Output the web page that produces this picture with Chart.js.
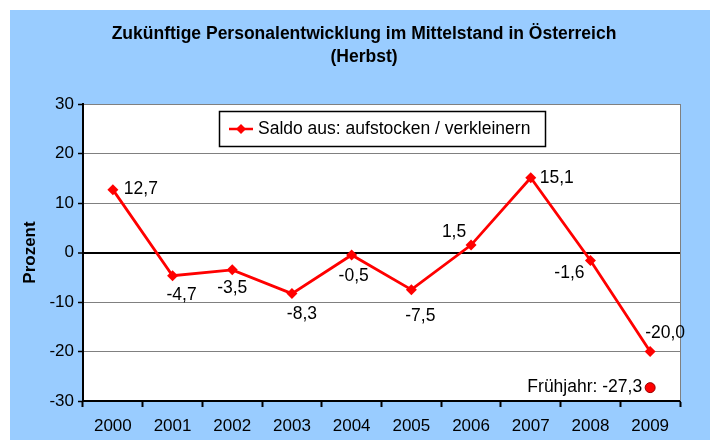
<!DOCTYPE html>
<html>
<head>
<meta charset="utf-8">
<script src="https://cdn.jsdelivr.net/npm/chart.js@4.4.1/dist/chart.umd.min.js"></script>
<style>
  html, body { margin: 0; padding: 0; background: #fff; }
  #wrap { width: 710px; height: 441px; }
</style>
</head>
<body>
<div id="wrap"><canvas id="chart" width="710" height="441"></canvas></div>
<script>
// chart data
const years = ['2000', '2001', '2002', '2003', '2004', '2005', '2006', '2007', '2008', '2009'];
const saldo = [12.7, -4.7, -3.5, -8.3, -0.5, -7.5, 1.5, 15.1, -1.6, -20.0];
const fruehjahr = [null, null, null, null, null, null, null, null, null, -27.3];
const yTicks = [30, 20, 10, 0, -10, -20, -30];

const seriesName = 'Saldo aus: aufstocken / verkleinern';
const titleLines = ['Zukünftige Personalentwicklung im Mittelstand in Österreich', '(Herbst)'];

const FONT = '"Liberation Sans", Arial, sans-serif';

// where each value label sits relative to its marker
const labelPos = [
    { dx: 11, dy: 0, align: 'left' },
    { dx: 9, dy: 19, align: 'center' },
    { dx: 0, dy: 18, align: 'center' },
    { dx: 10, dy: 21, align: 'center' },
    { dx: 2, dy: 21, align: 'center' },
    { dx: 9, dy: 27, align: 'center' },
    { dx: -17, dy: -13, align: 'center' },
    { dx: 9, dy: 0, align: 'left' },
    { dx: -21, dy: 13, align: 'center' },
    { dx: 15, dy: -18, align: 'center' }
];

function fmt(v) {
    return v.toFixed(1).replace('.', ',');
}

const decorPlugin = {
    id: 'decor',
    beforeDraw(chart) {
        const ctx = chart.ctx;
        const a = chart.chartArea;
        ctx.save();
        ctx.fillStyle = '#fff';
        ctx.fillRect(0, 0, chart.width, chart.height);
        ctx.fillStyle = '#99CCFF';
        ctx.fillRect(10, 10, chart.width - 10, 430);
        ctx.fillStyle = '#fff';
        ctx.fillRect(a.left, a.top, a.right - a.left, a.bottom - a.top);

        // title
        ctx.fillStyle = '#000';
        ctx.font = 'bold 17.5px ' + FONT;
        ctx.textAlign = 'center';
        ctx.textBaseline = 'middle';
        ctx.fillText(titleLines[0], 364, 34);
        ctx.fillText(titleLines[1], 364, 57);
        ctx.restore();
    },
    afterDatasetsDraw(chart) {
        const ctx = chart.ctx;
        const a = chart.chartArea;
        ctx.save();
        // right border of the plot area
        ctx.strokeStyle = '#808080';
        ctx.lineWidth = 1;
        ctx.beginPath();
        ctx.moveTo(a.right + 0.5, a.top);
        ctx.lineTo(a.right + 0.5, a.bottom);
        ctx.stroke();

        ctx.fillStyle = '#000';
        ctx.font = '17.5px ' + FONT;
        ctx.textBaseline = 'middle';

        // value labels
        const meta = chart.getDatasetMeta(0);
        meta.data.forEach((pt, i) => {
            const p = labelPos[i];
            ctx.textAlign = p.align;
            ctx.fillText(fmt(saldo[i]), pt.x + p.dx, pt.y + p.dy);
        });

        // spring value
        const meta2 = chart.getDatasetMeta(1);
        fruehjahr.forEach((v, i) => {
            if (v === null) return;
            const pt = meta2.data[i];
            ctx.textAlign = 'right';
            ctx.fillText('Frühjahr: ' + fmt(v), pt.x - 8, pt.y);
        });

        // legend box
        const lx = 219, ly = 111, lw = 326, lh = 35;
        ctx.fillStyle = '#fff';
        ctx.fillRect(lx, ly, lw, lh);
        ctx.strokeStyle = '#000';
        ctx.lineWidth = 1.5;
        ctx.strokeRect(lx + 0.5, ly + 0.5, lw, lh);
        const cy = ly + lh / 2 + 0.5;
        ctx.strokeStyle = '#FF0000';
        ctx.lineWidth = 2.5;
        ctx.beginPath();
        ctx.moveTo(229, cy);
        ctx.lineTo(253, cy);
        ctx.stroke();
        ctx.fillStyle = '#FF0000';
        ctx.beginPath();
        ctx.moveTo(241, cy - 5);
        ctx.lineTo(246, cy);
        ctx.lineTo(241, cy + 5);
        ctx.lineTo(236, cy);
        ctx.closePath();
        ctx.fill();
        ctx.fillStyle = '#000';
        ctx.textAlign = 'left';
        ctx.font = '17.5px ' + FONT;
        ctx.fillText(seriesName, 258, cy);
        ctx.restore();
    }
};

new Chart(document.getElementById('chart'), {
    type: 'line',
    data: {
        labels: years,
        datasets: [{
            label: seriesName,
            data: saldo,
            borderColor: '#FF0000',
            backgroundColor: '#FF0000',
            borderWidth: 2.8,
            pointStyle: 'rectRot',
            pointRadius: 5.5,
            pointBorderWidth: 0,
            tension: 0,
            fill: false
        }, {
            label: 'Frühjahr',
            data: fruehjahr,
            showLine: false,
            pointStyle: 'circle',
            pointRadius: 5,
            pointBackgroundColor: '#FF0000',
            pointBorderColor: '#990000',
            pointBorderWidth: 1
        }]
    },
    options: {
        responsive: false,
        animation: false,
        layout: { padding: { left: 10, right: 30, top: 104, bottom: 0 } },
        plugins: {
            legend: { display: false },
            title: { display: false },
            tooltip: { enabled: false }
        },
        scales: {
            x: {
                offset: true,
                grid: {
                    offset: true,
                    drawOnChartArea: false,
                    drawTicks: true,
                    tickLength: 6,
                    tickColor: '#000',
                    tickWidth: 2
                },
                border: { color: '#000', width: 2 },
                ticks: {
                    color: '#000',
                    font: { family: FONT, size: 17 },
                    padding: 9,
                    maxRotation: 0
                },
                afterFit(s) { s.height = 40; }
            },
            y: {
                min: -30,
                max: 30,
                afterBuildTicks(s) { s.ticks = yTicks.map(v => ({ value: v })); },
                grid: {
                    color: c => c.tick && c.tick.value === 0 ? '#000' : '#808080',
                    lineWidth: c => c.tick && c.tick.value === 0 ? 2 : 1,
                    drawTicks: true,
                    tickLength: 5,
                    tickColor: '#000',
                    tickWidth: 1.5
                },
                border: { color: '#000', width: 2 },
                ticks: {
                    color: '#000',
                    font: { family: FONT, size: 17 },
                    padding: 4
                },
                title: {
                    display: true,
                    text: 'Prozent',
                    color: '#000',
                    font: { family: FONT, size: 17, weight: 'bold' },
                    padding: { top: 10, bottom: 4 }
                },
                afterFit(s) { s.width = 73; }
            }
        }
    },
    plugins: [decorPlugin]
});
</script>
</body>
</html>
